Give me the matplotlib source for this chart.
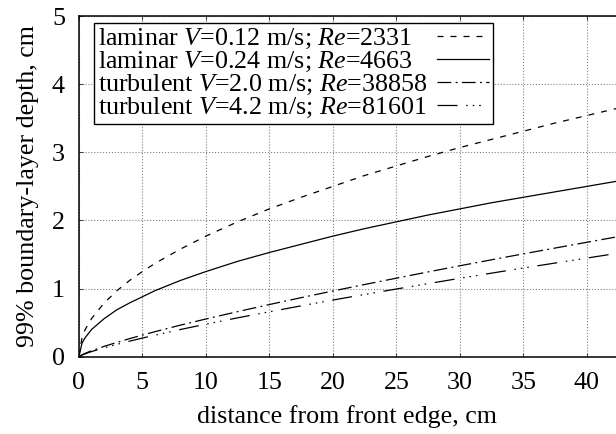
import matplotlib
matplotlib.use('Agg')
import matplotlib.pyplot as plt

# distance from the front edge, cm
x_cm = [0, 0.25, 0.5, 1, 2, 3, 4, 5, 6, 8, 10, 12.5, 15, 17.5, 20, 22.5,
        25, 27.5, 30, 32.5, 35, 37.5, 40, 42.5]

# 99% boundary-layer depth, cm
lam_012 = [0, 0.28, 0.40, 0.56, 0.79, 0.97, 1.12, 1.25, 1.37, 1.58, 1.77, 1.98,
           2.17, 2.34, 2.50, 2.66, 2.80, 2.94, 3.07, 3.19, 3.31, 3.43, 3.54, 3.65]
lam_024 = [0, 0.20, 0.28, 0.40, 0.56, 0.69, 0.79, 0.88, 0.97, 1.12, 1.25, 1.40,
           1.53, 1.65, 1.77, 1.88, 1.98, 2.08, 2.17, 2.26, 2.34, 2.42, 2.50, 2.58]
turb_20 = [0, 0.029, 0.050, 0.088, 0.153, 0.211, 0.266, 0.318, 0.368, 0.464, 0.554,
           0.662, 0.766, 0.867, 0.965, 1.060, 1.153, 1.245, 1.335, 1.423, 1.510,
           1.595, 1.680, 1.764]
turb_42 = [0, 0.025, 0.043, 0.076, 0.132, 0.182, 0.229, 0.274, 0.317, 0.400, 0.478,
           0.571, 0.660, 0.747, 0.832, 0.914, 0.994, 1.073, 1.151, 1.227, 1.302,
           1.375, 1.448, 1.521]

labels = [
    r'laminar $V$=0.12 m/s; $Re$=2331',
    r'laminar $V$=0.24 m/s; $Re$=4663',
    r'turbulent $V$=2.0 m/s; $Re$=38858',
    r'turbulent $V$=4.2 m/s; $Re$=81601',
]

plt.rcParams['font.family'] = ['Liberation Serif', 'DejaVu Serif']
plt.rcParams['font.size'] = 18.7
plt.rcParams['mathtext.fontset'] = 'custom'
plt.rcParams['mathtext.rm'] = 'Liberation Serif'
plt.rcParams['mathtext.it'] = 'Liberation Serif:italic'

fig = plt.figure(figsize=(6.16, 4.34), dpi=100)
ax = fig.add_axes([0.128, 0.178, 0.872, 0.785])

lw = 0.9
ax.plot(x_cm, lam_012, color='black', lw=lw, dashes=(4.8, 5.6), label=labels[0])
ax.plot(x_cm, lam_024, color='black', lw=lw, label=labels[1])
ax.plot(x_cm, turb_20, color='black', lw=lw, dashes=(11, 3.5, 1.5, 3.5), label=labels[2])
ax.plot(x_cm, turb_42, color='black', lw=lw,
        dashes=(16, 7, 1.2, 4, 1.2, 4, 1.2, 7), label=labels[3])

ax.set_xlim(0, 42.3)
ax.set_ylim(0, 5)
ax.set_xticks(range(0, 45, 5))
ax.set_yticks(range(0, 6))
ax.grid(True, color='gray', linestyle=':', lw=0.8)
ax.tick_params(direction='in', length=3, width=0.5, top=True, pad=10)
ax.tick_params(axis='x', pad=11)

for s in ['left', 'bottom', 'top']:
    ax.spines[s].set_linewidth(1.1)
ax.spines['right'].set_visible(False)

ax.set_xlabel('distance from front edge, cm', labelpad=8)
ax.set_ylabel('99% boundary-layer depth, cm', labelpad=9)

leg = ax.legend(loc='upper left', bbox_to_anchor=(0.028, 0.9795), borderaxespad=0,
                markerfirst=False, handlelength=2.0, handletextpad=0.4,
                labelspacing=-0.05, borderpad=0.15, fancybox=False, framealpha=1,
                edgecolor='black')
leg.get_frame().set_linewidth(1.0)

# gnuplot-style key: labels left-justified, line samples lined up on the right
fig.canvas.draw()
renderer = fig.canvas.get_renderer()
widths = [t.get_window_extent(renderer).width for t in leg.get_texts()]
column = leg._legend_handle_box.get_children()[0]
column.align = 'left'
for item, w in zip(column.get_children(), widths):
    item.sep += (max(widths) - w) * 72 / fig.dpi

fig.savefig('out.png', dpi=100)
